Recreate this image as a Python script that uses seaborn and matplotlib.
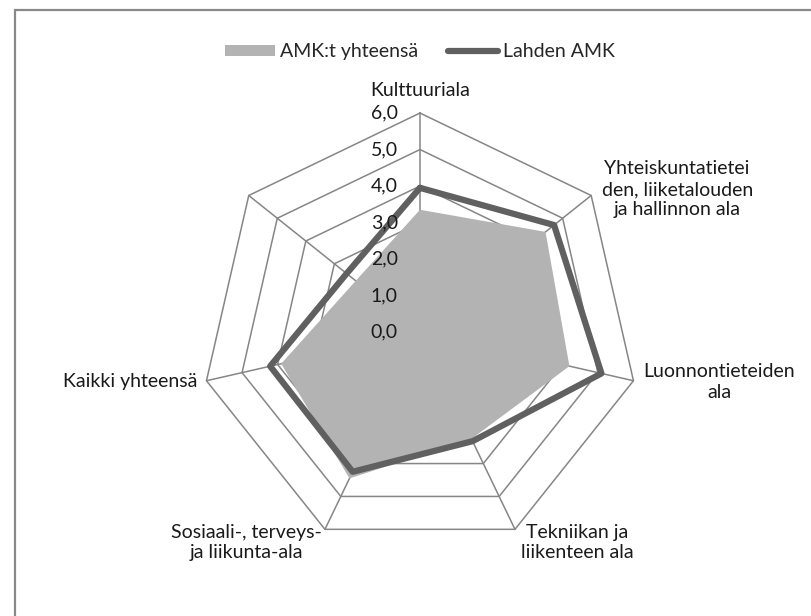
import numpy as np
import pandas as pd
import matplotlib
matplotlib.use("Agg")
import matplotlib.pyplot as plt
from matplotlib.patches import Patch, Rectangle
from matplotlib.lines import Line2D
import seaborn as sns

# data
categories = ["Kulttuuriala",
              "Yhteiskuntatietei\nden, liiketalouden\nja hallinnon ala",
              "Luonnontieteiden\nala",
              "Tekniikan ja\nliikenteen ala",
              "Sosiaali-, terveys-\nja liikunta-ala",
              "Kaikki yhteensä",
              ""]
amk_total = [3.35, 4.40, 4.20, 3.25, 4.45, 3.90, 2.25]
lahden_amk = [3.95, 4.70, 5.10, 3.32, 4.25, 4.21, 2.57]
r_ticks = [0, 1, 2, 3, 4, 5, 6]
r_labels = ["0,0", "1,0", "2,0", "3,0", "4,0", "5,0", "6,0"]

sns.set_theme(style="white")
plt.rcParams['font.family'] = ['Lato', 'DejaVu Sans']

grid_col = "#868686"
fill_col = "#b3b3b3"
line_col = "#606060"
fs = 14

n = len(categories)
theta = np.arange(n) * 2 * np.pi / n
theta_c = np.append(theta, theta[0])

df = pd.DataFrame({"theta": theta_c,
                   "amk": amk_total + amk_total[:1],
                   "lahden": lahden_amk + lahden_amk[:1]})

fig = plt.figure(figsize=(8.12, 6.16), dpi=100)
ax = fig.add_axes([0.2475, 0.1055, 0.5394, 0.711], projection="polar")
ax.set_theta_offset(np.pi / 2)
ax.set_theta_direction(-1)
ax.set_ylim(0, 6)
ax.grid(False)
ax.spines["polar"].set_visible(False)
ax.set_xticks([])
ax.set_yticks([])
ax.patch.set_alpha(0)

# heptagon grid + spokes
for v in r_ticks[1:]:
    ax.plot(theta_c, [v] * (n + 1), color=grid_col, lw=1.1, clip_on=False, zorder=1)
for t in theta:
    ax.plot([t, t], [0, 6], color=grid_col, lw=1.1, clip_on=False, zorder=1)

ax.fill(df["theta"], df["amk"], color=fill_col, lw=0, zorder=2)
sns.lineplot(data=df, x="theta", y="lahden", sort=False, estimator=None, ax=ax,
             color=line_col, lw=4.5, legend=False, zorder=3)
ax.set_xlabel("")
ax.set_ylabel("")

for v, lab in zip(r_ticks, r_labels):
    ax.annotate(lab, xy=(0, v), xytext=(-22, 0), textcoords="offset pixels",
                ha="right", va="center", fontsize=fs, color="#1a1a1a",
                annotation_clip=False, zorder=5)

offsets = [(0, 23, "center"), (86, 6, "center"), (86, -1, "center"),
           (62, -13, "center"), (-79, -13, "center"), (-9, -1, "right"),
           (0, 0, "center")]
for t, lab, (dx, dy, ha) in zip(theta, categories, offsets):
    ax.annotate(lab, xy=(t, 6), xytext=(dx, dy), textcoords="offset pixels",
                ha=ha, va="center", multialignment="center", fontsize=fs,
                color="#1a1a1a", linespacing=1.25, annotation_clip=False)

handles = [Patch(facecolor=fill_col, edgecolor="none", label="AMK:t yhteensä"),
           Line2D([], [], color=line_col, lw=4.5, solid_capstyle="round",
                  label="Lahden AMK")]
fig.legend(handles=handles, loc="center", bbox_to_anchor=(0.517, 0.9156), ncol=2,
           frameon=False, fontsize=fs, handlelength=2.6, handleheight=0.5,
           handletextpad=0.25, columnspacing=1.5)

# chart area border (continues past the right and bottom edges)
top = 1 - 10 / 616
fig.patches.append(Rectangle((15 / 812, -0.2), 1.2, top + 0.2,
                             transform=fig.transFigure, fill=False,
                             edgecolor="#898989", lw=1.6))

fig.savefig("out.png", dpi=100, facecolor="white")
